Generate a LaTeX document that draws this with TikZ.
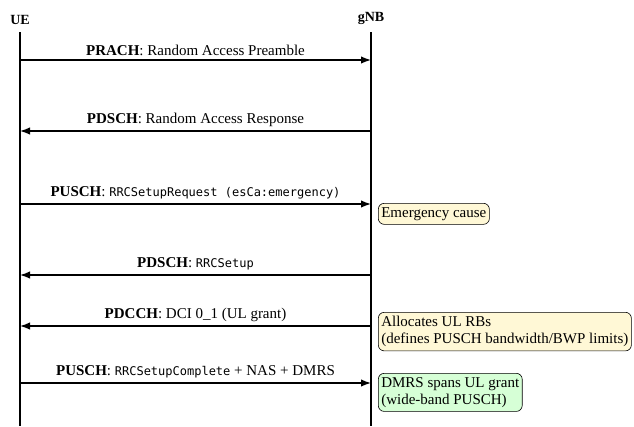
\documentclass[tikz,border=0pt]{standalone}
\usepackage{fontspec}
\setmainfont{Liberation Serif}
\setmonofont{DejaVu Sans Mono}
\usetikzlibrary{arrows.meta}
\definecolor{noteyellow}{RGB}{255,248,214}
\definecolor{notegreen}{RGB}{214,255,214}
\begin{document}
\begin{tikzpicture}[x=1pt,y=-1pt,
  font=\fontsize{15}{17}\selectfont,
  life/.style={line width=1.2pt},
  msg/.style={line width=1.5pt,-{Latex[length=10pt,width=7.5pt]}},
  actor/.style={font=\fontsize{14}{17}\selectfont\bfseries,anchor=south,inner sep=3pt},
  lbl/.style={midway,above,inner sep=4pt},
  note/.style={draw,rounded corners=6pt,align=left,inner xsep=3pt,inner ysep=4pt,anchor=north west,line width=0.6pt}]
\useasboundingbox (0,0) rectangle (634,426);
% lifelines
\coordinate (uetop) at (20,32);
\coordinate (uebot) at (20,426);
\coordinate (gnbtop) at (371,32);
\coordinate (gnbbot) at (371,426);
\node[actor] (ue) at (20,28) {UE};
\node[actor] (gnb) at (371,28) {gNB};
\draw[life] (uetop) -- (uebot);
\draw[life] (gnbtop) -- (gnbbot);
% message points
\foreach \n/\y in {1/60,2/131,3/204,4/275,5/326,6/383}{
  \coordinate (u\n) at (20,\y);
  \coordinate (g\n) at (371,\y);
}
\draw[msg] (u1) -- node[lbl] (l1) {\textbf{PRACH}: Random Access Preamble} (g1);
\draw[msg] (g2) -- node[lbl] (l2) {\textbf{PDSCH}: Random Access Response} (u2);
\draw[msg] (u3) -- node[lbl] (l3) {\textbf{PUSCH}: {\fontsize{12}{14}\selectfont\ttfamily RRCSetupRequest (esCa:emergency)}} (g3);
\draw[msg] (g4) -- node[lbl] (l4) {\textbf{PDSCH}: {\fontsize{12}{14}\selectfont\ttfamily RRCSetup}} (u4);
\draw[msg] (g5) -- node[lbl] (l5) {\textbf{PDCCH}: DCI 0\_1 (UL grant)} (u5);
\draw[msg] (u6) -- node[lbl] (l6) {\textbf{PUSCH}: {\fontsize{12}{14}\selectfont\ttfamily RRCSetupComplete} + NAS + DMRS} (g6);
% notes
\node[note,fill=noteyellow] (n1) at (378,203) {Emergency cause};
\node[note,fill=noteyellow] (n2) at (378,312) {Allocates UL RBs\\(defines PUSCH bandwidth/BWP limits)};
\node[note,fill=notegreen] (n3) at (378,373) {DMRS spans UL grant\\(wide-band PUSCH)};
\end{tikzpicture}
\end{document}
